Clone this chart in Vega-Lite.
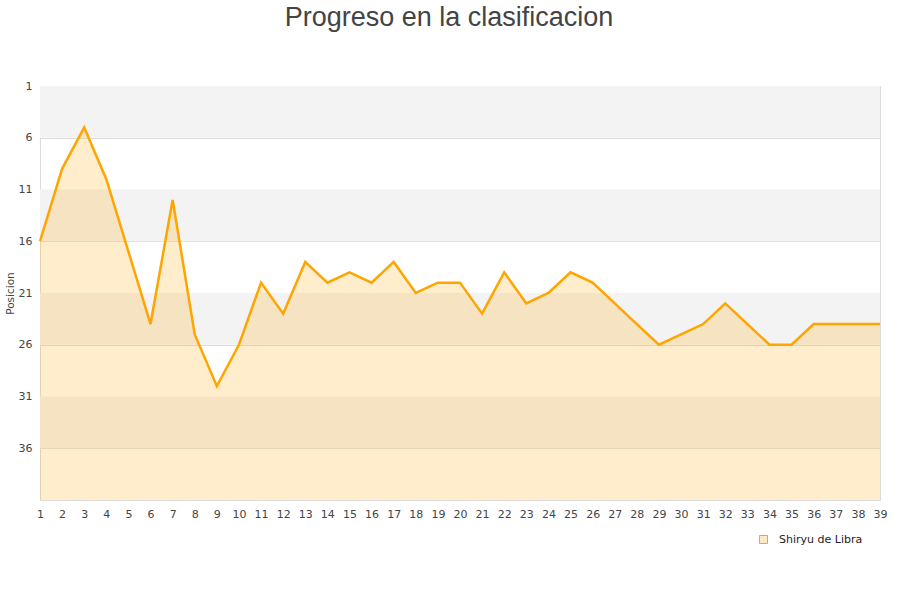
{
  "$schema": "https://vega.github.io/schema/vega-lite/v6.json",
  "autosize": "none",
  "width": 840,
  "height": 414,
  "padding": {"left": 40, "top": 86, "right": 20, "bottom": 100},
  "background": "white",
  "title": {
    "text": "Progreso en la clasificacion",
    "font": "Liberation Sans",
    "fontSize": 27,
    "fontWeight": "normal",
    "color": "#444444",
    "anchor": "middle",
    "offset": 48,
    "dx": -11
  },
  "config": {
    "view": {"stroke": "#dcdcdc", "strokeWidth": 1},
    "axis": {
      "labelFont": "DejaVu Sans",
      "labelFontSize": 11,
      "labelColor": "#444444",
      "labelFlush": false,
      "titleFont": "DejaVu Sans",
      "titleFontSize": 10.5,
      "titleFontWeight": "normal",
      "titleColor": "#444444",
      "domainColor": "#dcdcdc",
      "ticks": false
    }
  },
  "datasets": {
    "bands": [
      {"desde": 1, "hasta": 6},
      {"desde": 11, "hasta": 16},
      {"desde": 21, "hasta": 26},
      {"desde": 31, "hasta": 36}
    ],
    "progreso": [
      {"jornada": 1, "posicion": 16, "equipo": "Shiryu de Libra"},
      {"jornada": 2, "posicion": 9, "equipo": "Shiryu de Libra"},
      {"jornada": 3, "posicion": 5, "equipo": "Shiryu de Libra"},
      {"jornada": 4, "posicion": 10, "equipo": "Shiryu de Libra"},
      {"jornada": 5, "posicion": 17, "equipo": "Shiryu de Libra"},
      {"jornada": 6, "posicion": 24, "equipo": "Shiryu de Libra"},
      {"jornada": 7, "posicion": 12, "equipo": "Shiryu de Libra"},
      {"jornada": 8, "posicion": 25, "equipo": "Shiryu de Libra"},
      {"jornada": 9, "posicion": 30, "equipo": "Shiryu de Libra"},
      {"jornada": 10, "posicion": 26, "equipo": "Shiryu de Libra"},
      {"jornada": 11, "posicion": 20, "equipo": "Shiryu de Libra"},
      {"jornada": 12, "posicion": 23, "equipo": "Shiryu de Libra"},
      {"jornada": 13, "posicion": 18, "equipo": "Shiryu de Libra"},
      {"jornada": 14, "posicion": 20, "equipo": "Shiryu de Libra"},
      {"jornada": 15, "posicion": 19, "equipo": "Shiryu de Libra"},
      {"jornada": 16, "posicion": 20, "equipo": "Shiryu de Libra"},
      {"jornada": 17, "posicion": 18, "equipo": "Shiryu de Libra"},
      {"jornada": 18, "posicion": 21, "equipo": "Shiryu de Libra"},
      {"jornada": 19, "posicion": 20, "equipo": "Shiryu de Libra"},
      {"jornada": 20, "posicion": 20, "equipo": "Shiryu de Libra"},
      {"jornada": 21, "posicion": 23, "equipo": "Shiryu de Libra"},
      {"jornada": 22, "posicion": 19, "equipo": "Shiryu de Libra"},
      {"jornada": 23, "posicion": 22, "equipo": "Shiryu de Libra"},
      {"jornada": 24, "posicion": 21, "equipo": "Shiryu de Libra"},
      {"jornada": 25, "posicion": 19, "equipo": "Shiryu de Libra"},
      {"jornada": 26, "posicion": 20, "equipo": "Shiryu de Libra"},
      {"jornada": 27, "posicion": 22, "equipo": "Shiryu de Libra"},
      {"jornada": 28, "posicion": 24, "equipo": "Shiryu de Libra"},
      {"jornada": 29, "posicion": 26, "equipo": "Shiryu de Libra"},
      {"jornada": 30, "posicion": 25, "equipo": "Shiryu de Libra"},
      {"jornada": 31, "posicion": 24, "equipo": "Shiryu de Libra"},
      {"jornada": 32, "posicion": 22, "equipo": "Shiryu de Libra"},
      {"jornada": 33, "posicion": 24, "equipo": "Shiryu de Libra"},
      {"jornada": 34, "posicion": 26, "equipo": "Shiryu de Libra"},
      {"jornada": 35, "posicion": 26, "equipo": "Shiryu de Libra"},
      {"jornada": 36, "posicion": 24, "equipo": "Shiryu de Libra"},
      {"jornada": 37, "posicion": 24, "equipo": "Shiryu de Libra"},
      {"jornada": 38, "posicion": 24, "equipo": "Shiryu de Libra"},
      {"jornada": 39, "posicion": 24, "equipo": "Shiryu de Libra"}
    ]
  },
  "layer": [
    {
      "data": {"name": "bands"},
      "mark": {"type": "rect", "color": "#f3f3f3"},
      "encoding": {
        "y": {
          "field": "desde", "type": "quantitative",
          "scale": {"domain": [1, 41], "reverse": true, "nice": false, "zero": false},
          "axis": {"title": "Posicion", "values": [1, 6, 11, 16, 21, 26, 31, 36], "grid": true, "gridColor": "#dddddd", "labelPadding": 8, "titlePadding": 3, "labelOverlap": false}
        },
        "y2": {"field": "hasta"}
      }
    },
    {
      "data": {"name": "progreso"},
      "mark": {"type": "area", "color": "#ffa500", "opacity": 0.2},
      "encoding": {
        "x": {
          "field": "jornada", "type": "quantitative",
          "scale": {"domain": [1, 39], "nice": false, "zero": false},
          "axis": {"title": null, "values": [1,2,3,4,5,6,7,8,9,10,11,12,13,14,15,16,17,18,19,20,21,22,23,24,25,26,27,28,29,30,31,32,33,34,35,36,37,38,39], "grid": false, "domain": false, "labelPadding": 8, "labelOverlap": false}
        },
        "y": {
          "field": "posicion", "type": "quantitative",
          "scale": {"domain": [1, 41], "reverse": true, "nice": false, "zero": false},
          "axis": {"title": "Posicion", "values": [1, 6, 11, 16, 21, 26, 31, 36], "grid": true, "gridColor": "#dddddd", "labelPadding": 8, "titlePadding": 3, "labelOverlap": false}
        },
        "y2": {"datum": 41}
      }
    },
    {
      "data": {"name": "progreso"},
      "mark": {"type": "line", "strokeWidth": 2.5, "strokeJoin": "miter"},
      "encoding": {
        "x": {
          "field": "jornada", "type": "quantitative",
          "scale": {"domain": [1, 39], "nice": false, "zero": false},
          "axis": {"title": null, "values": [1,2,3,4,5,6,7,8,9,10,11,12,13,14,15,16,17,18,19,20,21,22,23,24,25,26,27,28,29,30,31,32,33,34,35,36,37,38,39], "grid": false, "domain": false, "labelPadding": 8, "labelOverlap": false}
        },
        "y": {
          "field": "posicion", "type": "quantitative",
          "scale": {"domain": [1, 41], "reverse": true, "nice": false, "zero": false},
          "axis": {"title": "Posicion", "values": [1, 6, 11, 16, 21, 26, 31, 36], "grid": true, "gridColor": "#dddddd", "labelPadding": 8, "titlePadding": 3, "labelOverlap": false}
        },
        "color": {
          "field": "equipo", "type": "nominal",
          "scale": {"range": ["#ffa500"]},
          "legend": {
            "title": null,
            "orient": "none",
            "legendX": 718,
            "legendY": 448,
            "symbolType": "square",
            "symbolSize": 64,
            "symbolFillColor": "#fde9c4",
            "symbolStrokeColor": "#a08a70",
            "symbolStrokeWidth": 1,
            "labelOffset": 10,
            "labelFont": "DejaVu Sans",
            "labelFontSize": 11,
            "labelColor": "#222222"
          }
        }
      }
    }
  ]
}
